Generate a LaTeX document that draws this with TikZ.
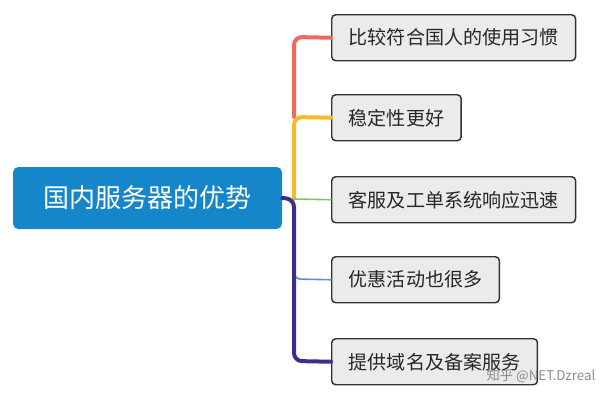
\documentclass[tikz,border=0pt]{standalone}
\usepackage{fontspec}
\setmainfont{Noto Sans CJK SC}
\begin{document}
\begin{tikzpicture}[x=0.75pt,y=-0.75pt,
  leaf/.style={draw=black!80,line width=1.1pt,fill=black!8,rounded corners=3pt,anchor=north west,inner xsep=12.8pt,inner ysep=0pt,minimum height=34.5pt,align=left,font=\fontsize{14.3}{16}\selectfont,text=black!85},
  br/.style={line width=#1,line cap=round}]
\useasboundingbox (0,0) rectangle (614,400);
\definecolor{cr}{HTML}{F06A5C}\definecolor{cy}{HTML}{F8B92E}\definecolor{cg}{HTML}{7DC46A}
\definecolor{cb}{HTML}{5B8FD6}\definecolor{cp}{HTML}{3A2F8A}\definecolor{rootc}{HTML}{1686CB}
\node[fill=rootc,rounded corners=4pt,minimum width=269*0.75pt,minimum height=62*0.75pt,text=white,font=\fontsize{19.5}{22}\selectfont] (root) at (147.5,198) {国内服务器的优势};
\node[leaf] (b1) at (331,14) {比较符合国人的使用习惯};
\node[leaf] (b2) at (331,94) {稳定性更好};
\node[leaf] (b3) at (331,176) {客服及工单系统响应迅速};
\node[leaf] (b4) at (331,256) {优惠活动也很多};
\node[leaf] (b5) at (331,338) {提供域名及备案服务};
\coordinate (j) at (294,199);
\draw[br=3pt,cr,rounded corners=6pt] (294,117) -- (294,37) -- (b1.west);
\draw[br=3pt,cy,rounded corners=6pt] (294,199) -- (294,117) -- (b2.west);
\draw[br=1.2pt,cg] (j) -- (b3.west);
\draw[br=1.2pt,cb,rounded corners=5pt] (294,270) -- (294,279) -- (b4.west);
\draw[br=3pt,cp,rounded corners=6pt] (root.east) -- (j) -- (294,361) -- (b5.west);
\node[text=black!45,font=\fontsize{10}{12}\selectfont,anchor=east] (wm) at (600,376) {知乎 @NET.Dzreal};
\end{tikzpicture}
\end{document}
